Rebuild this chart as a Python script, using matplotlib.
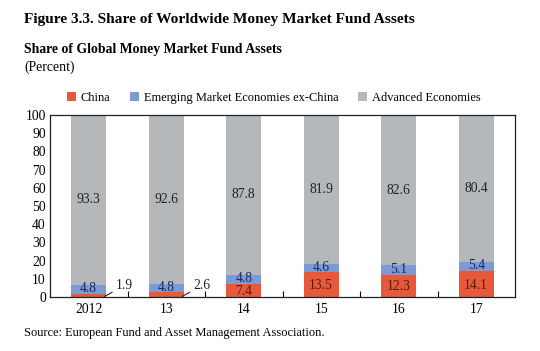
import matplotlib
matplotlib.use("Agg")
import matplotlib.pyplot as plt
import numpy as np

plt.rcParams['font.family'] = ['Liberation Serif', 'DejaVu Serif']

years = ["2012", "13", "14", "15", "16", "17"]
china = [1.9, 2.6, 7.4, 13.5, 12.3, 14.1]
em_ex_china = [4.8, 4.8, 4.8, 4.6, 5.1, 5.4]
advanced = [93.3, 92.6, 87.8, 81.9, 82.6, 80.4]
series_names = ["China", "Emerging Market Economies ex-China", "Advanced Economies"]
colors = ["#E6593A", "#7C9BD6", "#B5B8BB"]

fig = plt.figure(figsize=(5.4, 3.51), dpi=100)
ax = fig.add_axes([50/540, 1 - 297/351, 465/540, 182/351])

x = np.arange(len(years))
w = 0.45
china = np.array(china); em = np.array(em_ex_china); adv = np.array(advanced)
b1 = ax.bar(x, china, w, color=colors[0], label=series_names[0])
b2 = ax.bar(x, em, w, bottom=china, color=colors[1], label=series_names[1])
b3 = ax.bar(x, adv, w, bottom=china + em, color=colors[2], label=series_names[2])

fs = 9.8
for i in range(len(years)):
    ax.text(x[i], china[i] + em[i] + adv[i] / 2, f"{adv[i]:.1f}", ha="center", va="center", fontsize=fs, color="#222222")
    ax.text(x[i], china[i] + em[i] / 2 + 0.3, f"{em[i]:.1f}", ha="center", va="center", fontsize=fs, color="#1c2a5c")
    if china[i] >= 5:
        ax.text(x[i], china[i] / 2 - 0.6, f"{china[i]:.1f}", ha="center", va="center", fontsize=fs, color="#5c1a0e")
    else:
        ax.annotate(f"{china[i]:.1f}", xy=(x[i] + w / 2 - 0.02, 0.3),
                    xytext=(x[i] + w / 2 + 0.13, 6.5), ha="left", va="center", fontsize=fs,
                    color="#222222",
                    arrowprops=dict(arrowstyle="-", color="#222222", lw=0.8, shrinkA=1, shrinkB=0))

ax.set_xlim(-0.5, len(years) - 0.5)
ax.set_ylim(0, 100)
ax.set_yticks(np.arange(0, 101, 10))
ax.set_xticks(x)
ax.set_xticklabels(years)
ax.tick_params(axis="x", length=0, labelsize=fs, pad=4)
ax.tick_params(axis="y", length=0, labelsize=fs, pad=3)
ax.set_xticks(np.arange(0.5, len(years) - 0.5, 1), minor=True)
ax.tick_params(axis="x", which="minor", direction="in", length=4, width=0.8)
for s in ax.spines.values():
    s.set_linewidth(0.9)
    s.set_color("#222222")

fig.legend(handles=[b1, b2, b3], labels=series_names, loc="center", bbox_to_anchor=(274/540, 1 - 98/351),
           ncol=3, frameon=False, fontsize=8.9, handlelength=0.7, handleheight=0.7,
           handletextpad=0.4, columnspacing=1.6)

fig.text(24/540, 1 - 20/351, "Figure 3.3. Share of Worldwide Money Market Fund Assets",
         fontsize=11.1, fontweight="bold", ha="left", va="center")
fig.text(24/540, 1 - 50/351, "Share of Global Money Market Fund Assets",
         fontsize=9.9, fontweight="bold", ha="left", va="center")
fig.text(24/540, 1 - 67/351, "(Percent)", fontsize=9.9, ha="left", va="center")
fig.text(24/540, 1 - 333/351, "Source: European Fund and Asset Management Association.",
         fontsize=8.9, ha="left", va="center")

fig.savefig("out.png", dpi=100)
